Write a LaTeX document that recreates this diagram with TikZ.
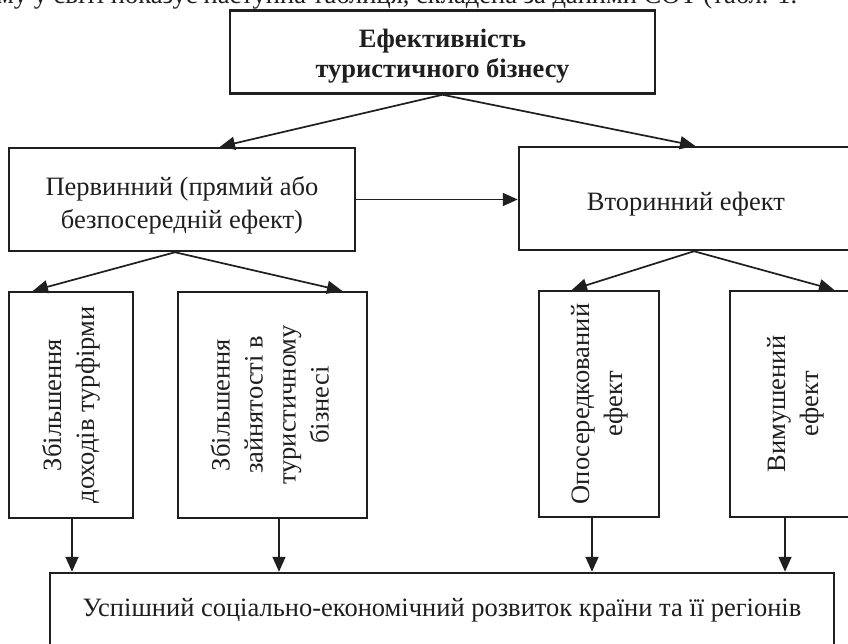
\documentclass[tikz,border=0pt]{standalone}
\usepackage{fontspec}
\setmainfont{Liberation Serif}
\usetikzlibrary{arrows.meta,calc}
\definecolor{ink}{gray}{0.12}
\newcommand{\lowtext}[2]{\raisebox{-#1}[\height][\depth]{\begin{tabular}{@{}c@{}}#2\end{tabular}}}
\newcommand{\uptext}[1]{\rotatebox{90}{\begin{tabular}{@{}c@{}}#1\end{tabular}}}
\begin{document}
\begin{tikzpicture}[x=1pt,y=-1pt,
  box/.style={draw=ink, line width=2.5pt, inner sep=0pt, text=ink, align=center,
    font=\fontsize{26.5}{33}\selectfont},
  vbox/.style={box, minimum height=226pt},
  arr/.style={draw=ink, line width=1.7pt, -{Triangle[length=15pt,width=13pt]}},
  cuttext/.style={anchor=base west, inner sep=0pt, text=ink, font=\fontsize{26.5}{32}\selectfont}
]
\useasboundingbox (0,0) rectangle (848,644);
\fill[white] (0,0) rectangle (848,644);

\node[cuttext] (cut) at (-3,4) {му у світі показує наступна таблиця, складена за даними СОТ (табл. 1.};

\node[box, minimum width=425pt, minimum height=83pt,
  font=\fontsize{26.5}{30}\selectfont\bfseries] (top) at (442.5,52)
  {\lowtext{5pt}{Ефективність\\туристичного бізнесу}};

\node[box, minimum width=346pt, minimum height=103pt] (prim) at (182,199.5)
  {\lowtext{6pt}{Первинний (прямий або\\безпосередній ефект)}};
\node[box, minimum width=334pt, minimum height=103pt] (sec) at (686,198.5)
  {\lowtext{5pt}{Вторинний ефект}};

\node[vbox, minimum width=124pt] (b1) at (71,405)
  {\uptext{Збільшення\\доходів турфірми}};
\node[vbox, minimum width=189pt] (b2) at (272.5,405)
  {\uptext{Збільшення\\зайнятості в\\туристичному\\бізнесі}};
\node[vbox, minimum width=120pt] (b3) at (599,404)
  {\uptext{Опосередкований\\ефект}};
\node[vbox, minimum width=130pt] (b4) at (795,404)
  {\uptext{Вимушений\\ефект}};

\node[box, minimum width=784pt, minimum height=74pt] (bot) at (442,610)
  {Успішний соціально-економічний розвиток країни та її регіонів};

\draw[arr] (top.south) -- ([xshift=38pt]prim.north);
\draw[arr] (top.south) -- ([xshift=9pt]sec.north);
\draw[arr] (prim.east) -- (prim.east -| sec.west);
\draw[arr] ([xshift=-7pt]prim.south) -- ([xshift=-38pt]b1.north);
\draw[arr] ([xshift=-7pt]prim.south) -- ([xshift=69.5pt]b2.north);
\draw[arr] ([xshift=8pt]sec.south) -- ([xshift=-27pt]b3.north);
\draw[arr] ([xshift=8pt]sec.south) -- ([xshift=39pt]b4.north);
\draw[arr] ([xshift=1pt]b1.south) -- ([xshift=1pt]b1.south |- bot.north);
\draw[arr] ([xshift=6.5pt]b2.south) -- ([xshift=6.5pt]b2.south |- bot.north);
\draw[arr] ([xshift=-7pt]b3.south) -- ([xshift=-7pt]b3.south |- bot.north);
\draw[arr] ([xshift=-10pt]b4.south) -- ([xshift=-10pt]b4.south |- bot.north);
\end{tikzpicture}
\end{document}
